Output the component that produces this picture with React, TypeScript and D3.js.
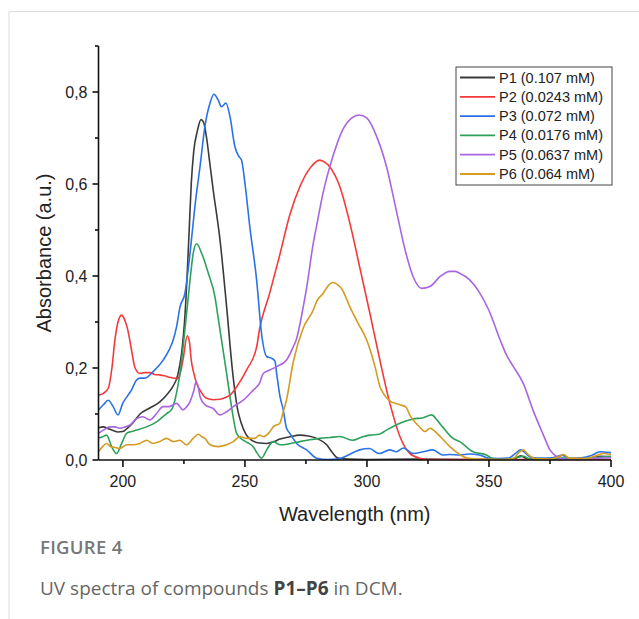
import React from "react";
import * as d3 from "d3";

// UV spectra, [wavelength nm, absorbance]
const p1: [number, number][] = [
  [190, 0.07], [192, 0.072], [194, 0.068], [196, 0.064], [198, 0.061], [200, 0.062], [202, 0.07],
  [204, 0.08], [207, 0.1], [211, 0.113], [215, 0.126], [218, 0.142], [220.5, 0.16], [222.5, 0.185],
  [224, 0.23], [225.5, 0.32], [227, 0.48], [228, 0.6], [229, 0.67], [230.5, 0.715], [232, 0.74],
  [233, 0.735], [234.3, 0.7], [235.5, 0.65], [237, 0.587], [239.8, 0.478], [242.5, 0.333],
  [245, 0.189], [247, 0.11], [248.5, 0.08], [250.5, 0.055], [253, 0.042], [256, 0.037], [259, 0.036],
  [262, 0.04], [264, 0.045], [268, 0.05], [272.5, 0.054], [276, 0.052], [279.4, 0.047],
  [283.5, 0.033], [286, 0.015], [288, 0.004], [292, 0.002], [300, 0.001], [320, 0.002], [340, 0.001],
  [360, 0.002], [363, 0.009], [366, 0.002], [380, 0.003], [390, 0.002], [396, 0.008], [400, 0.007],
];

const p2: [number, number][] = [
  [190, 0.141], [192, 0.145], [194, 0.156], [195.5, 0.2], [196.7, 0.26], [198, 0.3], [199.5, 0.315],
  [200.7, 0.305], [202, 0.283], [203.5, 0.24], [205, 0.2], [207, 0.188], [209, 0.19], [211, 0.19],
  [213, 0.186], [215, 0.185], [217, 0.183], [219, 0.18], [222.5, 0.177], [224, 0.2], [224.6, 0.217],
  [226.4, 0.27], [227.3, 0.255], [228, 0.217], [229, 0.19], [230.2, 0.167], [232, 0.148],
  [234.3, 0.134], [237, 0.131], [239.8, 0.132], [242, 0.136], [243.9, 0.141], [246.6, 0.159],
  [250.7, 0.196], [254.8, 0.246], [256, 0.285], [260, 0.36], [264, 0.44], [268.4, 0.533],
  [272.5, 0.594], [276.6, 0.634], [280.7, 0.652], [282.5, 0.648], [284.8, 0.637], [288.9, 0.594],
  [293, 0.515], [297, 0.42], [301.2, 0.319], [305.3, 0.217], [309.4, 0.123], [313.5, 0.051],
  [317.6, 0.014], [321.7, 0.004], [326, 0.001], [350, 0.001], [400, 0.001],
];

const p3: [number, number][] = [
  [190, 0.109], [192, 0.12], [194, 0.13], [196, 0.116], [198, 0.098], [200, 0.124], [202, 0.14],
  [203.5, 0.152], [205.6, 0.174], [207, 0.178], [209, 0.178], [212.4, 0.192], [216.5, 0.217],
  [219, 0.24], [220.6, 0.261], [222, 0.29], [223.4, 0.333], [225.4, 0.362], [227.5, 0.449],
  [229.5, 0.551], [231.6, 0.638], [233.6, 0.725], [235.7, 0.776], [237.3, 0.795], [239, 0.783],
  [240.4, 0.768], [242.2, 0.776], [243.9, 0.746], [245.9, 0.681], [247.5, 0.66], [248.6, 0.652],
  [250, 0.602], [252, 0.507], [254.8, 0.391], [256.8, 0.275], [258.9, 0.225], [261, 0.221],
  [262.3, 0.215], [263, 0.188], [264.3, 0.14], [265.7, 0.109], [267, 0.07], [268.4, 0.058],
  [271.2, 0.036], [275.3, 0.022], [279.4, 0.004], [284, 0.001], [288, 0.002], [292, 0.01],
  [297, 0.022], [301, 0.025], [305, 0.014], [309.4, 0.022], [312, 0.018], [315, 0.026], [319, 0.014],
  [323, 0.018], [327, 0.022], [331, 0.011], [334, 0.012], [338, 0.011], [342, 0.013], [346, 0.011],
  [350, 0.004], [354, 0.003], [358, 0.004], [361, 0.015], [363, 0.022], [365, 0.015], [367, 0.006],
  [372, 0.004], [376, 0.005], [380, 0.01], [383, 0.004], [388, 0.005], [392, 0.01], [395.5, 0.018],
  [398, 0.017], [400, 0.016],
];

const p4: [number, number][] = [
  [190, 0.048], [191.5, 0.05], [193.3, 0.054], [195.4, 0.029], [197.4, 0.014], [199.5, 0.036],
  [201.5, 0.058], [203.5, 0.062], [205.6, 0.065], [209.7, 0.072], [213.8, 0.083], [217.9, 0.101],
  [220, 0.11], [221.3, 0.13], [222.5, 0.16], [223.4, 0.188], [225.4, 0.283], [227.5, 0.391],
  [228.8, 0.449], [230.2, 0.47], [232.3, 0.449], [235, 0.406], [237.7, 0.355], [239, 0.31],
  [240.4, 0.261], [242.5, 0.188], [244.5, 0.116], [246.6, 0.058], [249.3, 0.043], [251, 0.038],
  [253.4, 0.029], [255, 0.015], [256.8, 0.004], [258.9, 0.022], [261.6, 0.04], [264.3, 0.033],
  [268, 0.035], [272.5, 0.04], [276.6, 0.044], [280.7, 0.047], [284.8, 0.049], [288.9, 0.051],
  [294, 0.043], [298, 0.05], [301, 0.054], [305, 0.056], [308, 0.065], [313.5, 0.08], [318.9, 0.089],
  [323, 0.092], [326.5, 0.098], [329, 0.085], [331, 0.072], [335, 0.048], [338, 0.04], [343.5, 0.018],
  [349, 0.011], [352, 0.002], [356, 0.001], [362, 0.006], [364, 0.008], [367, 0.002], [375, 0.001],
  [380, 0.004], [385, 0.002], [395, 0.006], [400, 0.008],
];

const p5: [number, number][] = [
  [190, 0.058], [192, 0.065], [194.7, 0.072], [196.5, 0.072], [198.8, 0.069], [201, 0.072],
  [202.9, 0.076], [205.6, 0.09], [208.2, 0.094], [211, 0.087], [213.8, 0.101], [216.4, 0.116],
  [219, 0.116], [222, 0.123], [224.6, 0.109], [226, 0.115], [227.5, 0.127], [229, 0.15], [230, 0.17],
  [231, 0.155], [231.6, 0.138], [233.6, 0.12], [237, 0.112], [239.8, 0.098], [242.5, 0.105],
  [245.2, 0.116], [249.3, 0.13], [253.4, 0.152], [256, 0.167], [257.5, 0.188], [260, 0.195],
  [263, 0.203], [267, 0.217], [269.7, 0.245], [271, 0.261], [273.8, 0.33], [275.3, 0.375],
  [278, 0.471], [279.4, 0.51], [282, 0.58], [286, 0.659], [290, 0.717], [293.7, 0.743],
  [296.8, 0.75], [300, 0.743], [304, 0.703], [308, 0.638], [312, 0.543], [316, 0.449], [318.9, 0.399],
  [322.4, 0.373], [325.8, 0.377], [330, 0.399], [334, 0.41], [336, 0.41], [338, 0.406], [342, 0.392],
  [346, 0.365], [350, 0.325], [354.5, 0.262], [357, 0.23], [360, 0.203], [364, 0.167], [368, 0.109],
  [372, 0.058], [375, 0.022], [377.8, 0.007], [380, 0.002], [385, 0.002], [390, 0.003], [395, 0.004],
  [400, 0.005],
];

const p6: [number, number][] = [
  [190, 0.018], [191.5, 0.028], [193.3, 0.036], [195, 0.029], [197, 0.027], [198.8, 0.025],
  [201.5, 0.033], [204, 0.033], [207, 0.036], [209.7, 0.043], [212.4, 0.036], [215, 0.04],
  [217.9, 0.047], [220.6, 0.04], [223.4, 0.043], [226, 0.033], [228.8, 0.047], [230.9, 0.056],
  [232.5, 0.05], [233.6, 0.047], [235.7, 0.033], [239, 0.029], [242.5, 0.033], [245.2, 0.04],
  [248, 0.051], [250.7, 0.047], [254, 0.047], [256, 0.054], [257.5, 0.051], [260, 0.06],
  [261.6, 0.072], [264.3, 0.08], [265.7, 0.105], [267, 0.13], [269.8, 0.213], [273.9, 0.287],
  [278, 0.326], [279.4, 0.345], [282, 0.362], [284, 0.378], [285.9, 0.386], [287.5, 0.383],
  [289.6, 0.373], [293, 0.333], [296.4, 0.297], [299.9, 0.261], [303.3, 0.203], [305.3, 0.16],
  [306.7, 0.145], [309.5, 0.128], [313.5, 0.12], [316, 0.115], [317.6, 0.097], [321, 0.075],
  [323.8, 0.062], [325.8, 0.069], [327, 0.066], [330, 0.051], [334, 0.029], [338, 0.012],
  [341, 0.004], [345, 0.002], [355, 0.001], [360, 0.003], [362, 0.015], [364, 0.022], [366, 0.012],
  [369, 0.003], [375, 0.002], [379, 0.008], [380.5, 0.012], [383, 0.004], [390, 0.003], [394, 0.01],
  [397, 0.014], [400, 0.012],
];

const seriesNames = ["P1", "P2", "P3", "P4", "P5", "P6"];
const concentrations = ["0.107 mM", "0.0243 mM", "0.072 mM", "0.0176 mM", "0.0637 mM", "0.064 mM"];
const seriesData = [p1, p2, p3, p4, p5, p6];
const colors = ["#3a3a3a", "#f23a3a", "#2a72e6", "#2fa05c", "#a866e0", "#d39b22"];

const xMajorTicks = [200, 250, 300, 350, 400];
const xMinorTicks = [225, 275, 325, 375];
const yMajorTicks = [0, 0.2, 0.4, 0.6, 0.8];
const yMinorTicks = [0.1, 0.3, 0.5, 0.7, 0.9];

const W = 639;
const H = 619;
const plot = { left: 98.5, right: 611, top: 46, bottom: 460 };
const axisFont = "Arial, 'Liberation Sans', sans-serif";
const captionFont = "'Open Sans', 'Noto Sans', sans-serif";

export default function App() {
  const x = d3.scaleLinear().domain([190, 400]).range([plot.left, plot.right]);
  const y = d3.scaleLinear().domain([0, 0.9]).range([plot.bottom, plot.top]);
  const line = d3
    .line<[number, number]>()
    .x((d) => x(d[0]))
    .y((d) => y(d[1]))
    .curve(d3.curveMonotoneX);

  const fmt = (v: number) => v.toFixed(1).replace(".", ",");

  const legend = { x: 456, y: 67, w: 156, h: 118, row0: 77.5, step: 19.3 };

  return (
    <svg
      width={W}
      height={H}
      style={{ position: "absolute", left: 0, top: 0, background: "#fff" }}
    >
      {/* card frame */}
      <line x1={9} y1={11.5} x2={W} y2={11.5} stroke="#dcdcdc" strokeWidth={1} />
      <line x1={9} y1={11.5} x2={9} y2={H} stroke="#dcdcdc" strokeWidth={1} />

      {/* spectra */}
      {seriesData.map((s, i) => (
        <path key={seriesNames[i]} d={line(s) || ""} fill="none" stroke={colors[i]} strokeWidth={1.6} />
      ))}

      {/* axes */}
      <g stroke="#111" strokeWidth={1.6} fill="none">
        <line x1={plot.left} y1={plot.bottom} x2={plot.right} y2={plot.bottom} />
        <line x1={plot.left} y1={plot.top} x2={plot.left} y2={plot.bottom} />
        {xMajorTicks.map((t) => (
          <line key={"xM" + t} x1={x(t)} x2={x(t)} y1={plot.bottom} y2={plot.bottom + 7} />
        ))}
        {xMinorTicks.map((t) => (
          <line key={"xm" + t} x1={x(t)} x2={x(t)} y1={plot.bottom} y2={plot.bottom + 4} />
        ))}
        {yMajorTicks.map((t) => (
          <line key={"yM" + t} x1={plot.left - 6} x2={plot.left} y1={y(t)} y2={y(t)} />
        ))}
        {yMinorTicks.map((t) => (
          <line key={"ym" + t} x1={plot.left - 3.5} x2={plot.left} y1={y(t)} y2={y(t)} />
        ))}
      </g>
      <g fontFamily={axisFont} fontSize={16} fill="#222">
        {xMajorTicks.map((t) => (
          <text key={"xl" + t} x={x(t)} y={plot.bottom + 27} textAnchor="middle">
            {t}
          </text>
        ))}
        {yMajorTicks.map((t) => (
          <text key={"yl" + t} x={plot.left - 11} y={y(t) + 6} textAnchor="end">
            {fmt(t)}
          </text>
        ))}
      </g>
      <text
        x={(plot.left + plot.right) / 2}
        y={521}
        textAnchor="middle"
        fontFamily={axisFont}
        fontSize={20}
        fill="#222"
      >
        Wavelength (nm)
      </text>
      <text
        transform={`translate(51,${(plot.top + plot.bottom) / 2}) rotate(-90)`}
        textAnchor="middle"
        fontFamily={axisFont}
        fontSize={20}
        fill="#222"
      >
        Absorbance (a.u.)
      </text>

      {/* legend */}
      <rect x={legend.x} y={legend.y} width={legend.w} height={legend.h} fill="#fff" stroke="#444" strokeWidth={1} />
      {seriesNames.map((n, i) => {
        const cy = legend.row0 + i * legend.step;
        return (
          <g key={"lg" + n}>
            <line x1={460} x2={495} y1={cy} y2={cy} stroke={colors[i]} strokeWidth={1.8} />
            <text x={499} y={cy + 5} fontFamily={axisFont} fontSize={14.5} fill="#222">
              {`${n} (${concentrations[i]})`}
            </text>
          </g>
        );
      })}

      {/* caption */}
      <text x={40} y={554} fontFamily={captionFont} fontSize={18.5} fontWeight={600} fill="#777" letterSpacing={0.3}>
        FIGURE 4
      </text>
      <text x={40} y={595} fontFamily={captionFont} fontSize={19} fill="#666">
        UV spectra of compounds <tspan fontWeight={700} fill="#444">P1–P6</tspan> in DCM.
      </text>
    </svg>
  );
}
